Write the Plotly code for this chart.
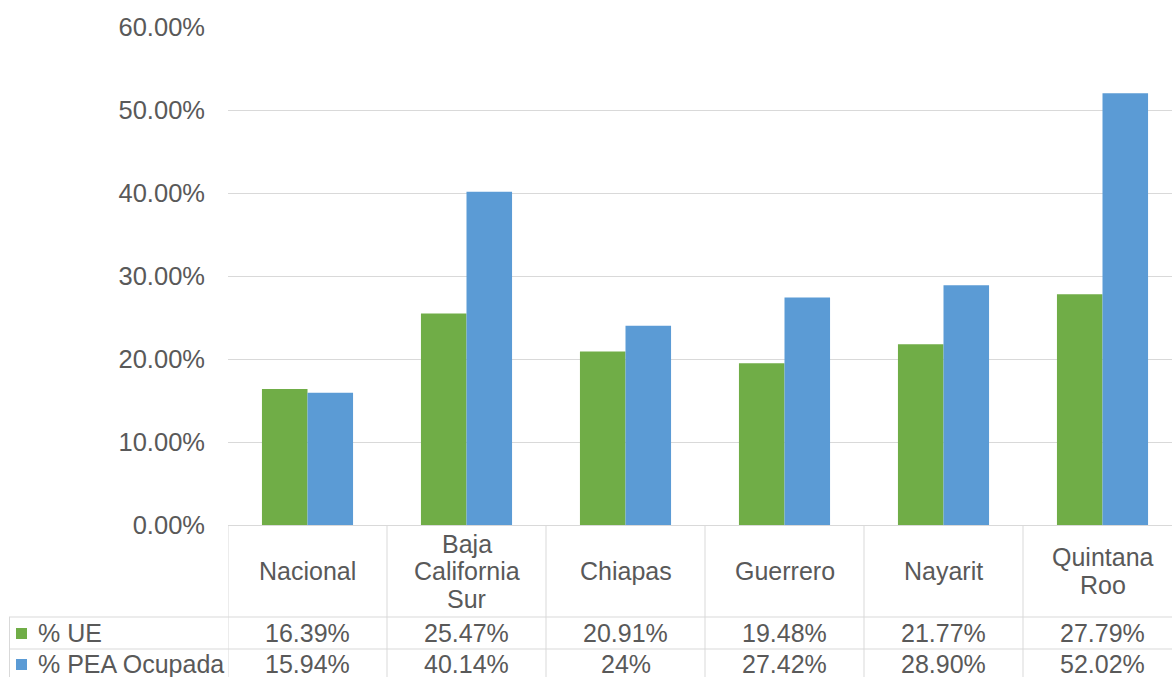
import plotly.graph_objects as go

# Data
categorias = ["Nacional", "Baja<br>California<br>Sur", "Chiapas", "Guerrero", "Nayarit", "Quintana<br>Roo"]
series_nombres = ["% UE", "% PEA Ocupada"]
ue = [16.39, 25.47, 20.91, 19.48, 21.77, 27.79]
pea_ocupada = [15.94, 40.14, 24, 27.42, 28.90, 52.02]
y_ticks = [0, 10, 20, 30, 40, 50, 60]

VERDE = "#70ad47"
AZUL = "#5b9bd5"
GRIS_TXT = "#595959"
GRIS_LIN = "#d9d9d9"
FUENTE = "Liberation Sans, Arial, sans-serif"
TAM = 25

W, H = 1172, 677
L, T, B = 228, 27, 152
PLOT_W = W - L
PLOT_H = H - T - B
CAT_PX = 159  # ancho de cada columna de la tabla
x_max = -0.5 + PLOT_W / CAT_PX


def px_x(px):
    return (px - L) / PLOT_W


def px_y(py):
    return (H - B - py) / PLOT_H


def etiqueta(v):
    return f"{v:g}%" if float(v).is_integer() else f"{v:.2f}%"


xs = list(range(len(categorias)))

fig = go.Figure()
fig.add_trace(go.Bar(x=xs, y=ue, name=series_nombres[0], marker_color=VERDE, marker_line_width=0))
fig.add_trace(go.Bar(x=xs, y=pea_ocupada, name=series_nombres[1], marker_color=AZUL, marker_line_width=0))

shapes = []
annotations = []

# Líneas de la tabla de datos
y_fila1, y_fila2 = 617, 649
for py in (y_fila1, y_fila2):
    shapes.append(dict(type="line", xref="paper", yref="paper", x0=px_x(9), x1=1.02,
                       y0=px_y(py), y1=px_y(py), line=dict(color=GRIS_LIN, width=1)))
shapes.append(dict(type="line", xref="paper", yref="paper", x0=px_x(9.5), x1=px_x(9.5),
                   y0=px_y(y_fila1), y1=px_y(H + 5), line=dict(color=GRIS_LIN, width=1)))
for i in range(len(categorias)):
    shapes.append(dict(type="line", xref="x", yref="paper", x0=i - 0.5, x1=i - 0.5,
                       y0=0, y1=px_y(H + 5), line=dict(color=GRIS_LIN, width=1)))

# Encabezados de categoría (una anotación por renglón para controlar el interlineado)
centro_enc, interlineado = 571, 27.5
for i, c in enumerate(categorias):
    renglones = c.split("<br>")
    n = len(renglones)
    for k, r in enumerate(renglones):
        cy = centro_enc + (k - (n - 1) / 2) * interlineado
        annotations.append(dict(x=i, y=px_y(cy), xref="x", yref="paper", text=r, showarrow=False,
                                font=dict(size=TAM, color=GRIS_TXT, family=FUENTE),
                                xanchor="center", yanchor="middle", align="center"))

# Filas de valores
centros = [633, 664]
for serie, color, cy, nombre in ((ue, VERDE, centros[0], series_nombres[0]),
                                 (pea_ocupada, AZUL, centros[1], series_nombres[1])):
    shapes.append(dict(type="rect", xref="paper", yref="paper", x0=px_x(16), x1=px_x(27),
                       y0=px_y(cy - 5), y1=px_y(cy + 6), fillcolor=color, line_width=0))
    annotations.append(dict(x=px_x(36), y=px_y(cy), xref="paper", yref="paper", text=nombre,
                            showarrow=False, xanchor="left", yanchor="middle",
                            font=dict(size=TAM, color=GRIS_TXT, family=FUENTE)))
    for i, v in enumerate(serie):
        annotations.append(dict(x=i, y=px_y(cy), xref="x", yref="paper", text=etiqueta(v),
                                showarrow=False, xanchor="center", yanchor="middle",
                                font=dict(size=TAM, color=GRIS_TXT, family=FUENTE)))

fig.update_layout(
    width=W, height=H,
    margin=dict(l=L, r=0, t=T, b=B, pad=0),
    paper_bgcolor="white", plot_bgcolor="white",
    barmode="group", bargap=0.427, bargroupgap=0,
    showlegend=False,
    xaxis=dict(range=[-0.5, x_max], showticklabels=False, showgrid=False, zeroline=False,
               showline=False, fixedrange=True),
    yaxis=dict(range=[0, 60], tickvals=y_ticks, ticktext=[f"{v:.2f}%" for v in y_ticks],
               showgrid=True, gridcolor=GRIS_LIN, gridwidth=1, zeroline=True,
               zerolinecolor=GRIS_LIN, zerolinewidth=1, showline=False,
               tickfont=dict(size=25.5, color=GRIS_TXT, family=FUENTE),
               ticks="", ticklabelstandoff=22),
    shapes=shapes,
    annotations=annotations,
)

fig.write_html("out.html")
